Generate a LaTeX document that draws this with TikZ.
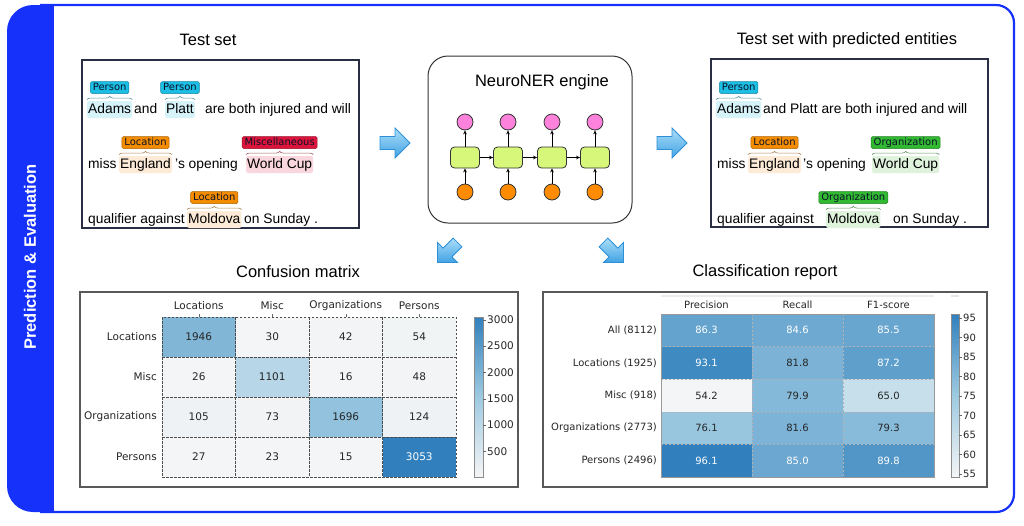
\documentclass[tikz,border=0pt]{standalone}
\usepackage{fontspec}
\setmainfont{Liberation Sans}
\newfontfamily\djv{DejaVu Sans}
\usetikzlibrary{decorations.pathreplacing,arrows.meta,calc}
\newcommand\myfs[1]{\fontsize{#1}{#1}\selectfont}
\definecolor{frameblue}{RGB}{22,50,250}
\definecolor{cmLight}{RGB}{244,245,246}
\definecolor{cmMid}{RGB}{158,202,225}
\definecolor{cmDark}{RGB}{49,128,189}
\definecolor{perTag}{RGB}{28,190,228}
\definecolor{perHL}{RGB}{215,243,250}
\definecolor{locTag}{RGB}{245,140,0}
\definecolor{locHL}{RGB}{253,235,215}
\definecolor{misTag}{RGB}{220,20,60}
\definecolor{misHL}{RGB}{250,215,222}
\definecolor{orgTag}{RGB}{50,185,50}
\definecolor{orgHL}{RGB}{222,242,220}
\definecolor{tagtext}{RGB}{10,18,40}
\definecolor{pinkC}{RGB}{252,130,220}
\definecolor{orangeC}{RGB}{255,140,0}
\definecolor{greenC}{RGB}{214,247,122}
\definecolor{arrowlight}{RGB}{170,222,249}
\definecolor{arrowdark}{RGB}{66,162,228}
\definecolor{arrowdraw}{RGB}{45,143,213}
\definecolor{mpltext}{RGB}{38,38,38}
\definecolor{boxline}{RGB}{42,46,66}
\begin{document}
\begin{tikzpicture}[x=1pt,y=-1pt,
  word/.style={anchor=base west, inner xsep=1pt, inner ysep=2pt, text height=10pt, text depth=3pt, font=\myfs{13.8}, rounded corners=2pt},
  enttag/.style={font=\djv\myfs{10}, text=tagtext, inner xsep=2.5pt, inner ysep=1.2pt, text height=7.6pt, text depth=2pt, rounded corners=1.5pt, draw=#1!70!black, fill=#1, line width=0.5pt},
  brc/.style={decorate, decoration={brace, amplitude=3.5pt}, draw=#1, line width=0.6pt},
  title/.style={font=\myfs{16.5}, text=black},
  tbox/.style={draw=boxline, line width=1.1pt},
  mbox/.style={draw=black!65, line width=1.2pt},
  pinkc/.style={circle, minimum size=16pt, inner sep=0pt, fill=pinkC, draw=black!80, line width=0.8pt},
  orangec/.style={circle, minimum size=16pt, inner sep=0pt, fill=orangeC, draw=black!80, line width=0.8pt},
  greenr/.style={rectangle, rounded corners=4pt, minimum width=29pt, minimum height=21pt, inner sep=0pt, fill=greenC, draw=black!80, line width=0.8pt},
  netarrow/.style={-{Stealth[length=4pt,width=3.6pt]}, line width=0.8pt, black},
  mpl/.style={font=\djv\myfs{10.5}, text=mpltext, inner sep=1pt},
  mpls/.style={font=\djv\myfs{10}, text=mpltext, inner sep=1pt},
  cmcell/.style={minimum width=73.5pt, minimum height=40pt, inner sep=0pt, font=\djv\myfs{10.5}},
  crcell/.style={minimum width=91pt, minimum height=32.6pt, inner sep=0pt, font=\djv\myfs{10}},
  cmgrid/.style={draw=black!70, dash pattern=on 2.5pt off 1.5pt, line width=0.6pt},
  crgrid/.style={draw=black!30, dash pattern=on 2pt off 2pt, line width=0.4pt},
  blockarrow/.pic={\draw[draw=arrowdraw, line width=0.8pt, top color=arrowlight, bottom color=arrowdark] (-15,-6.5) -- (0,-6.5) -- (0,-15) -- (15,0) -- (0,15) -- (0,6.5) -- (-15,6.5) -- cycle;}
]
\useasboundingbox (0,0) rectangle (1024,525);
% ---------- frame ----------
\fill[frameblue, rounded corners=26pt] (7,5) rectangle (90,512);
\fill[white] (54,6.2) rectangle (95,510.8);
\draw[frameblue, line width=2.2pt, rounded corners=18pt] (40,5) -- (1014,5) -- (1014,512) -- (40,512);
\node[rotate=90, text=white, font=\bfseries\myfs{16.5}] (side) at (30,257) {Prediction \& Evaluation};

% ---------- titles ----------
\node[title] (ttest) at (208,40) {Test set};
\node[title] (tpred) at (847,40) {Test set with predicted entities};
\node[title] (tconf) at (298,272) {Confusion matrix};
\node[title] (tclass) at (765,272) {Classification report};

% ---------- left text box ----------
\draw[tbox] (82,60) rectangle (359,228);
\node[word, fill=perHL] (la1) at (87,113) {Adams};
\node[word] (la2) at (133,113) {and};
\node[word, fill=perHL] (la3) at (165,113) {Platt};
\node[word] (la4) at (204,113) {are both injured and will};
\node[word] (lb1) at (87,168) {miss};
\node[word, fill=locHL] (lb2) at (119,168) {England};
\node[word] (lb3) at (174,168) {'s opening};
\node[word, fill=misHL] (lb4) at (246,168) {World Cup};
\node[word] (lc1) at (87,223) {qualifier against};
\node[word, fill=locHL] (lc2) at (187,223) {Moldova};
\node[word] (lc3) at (243,223) {on Sunday .};
\node[enttag=perTag] (lt1) at ([yshift=25.5pt]la1.base) {Person};
\node[enttag=perTag] (lt2) at ([yshift=25.5pt]la3.base) {Person};
\node[enttag=locTag] (lt3) at ([yshift=25.5pt]lb2.base) {Location};
\node[enttag=misTag] (lt4) at ([yshift=25.5pt]lb4.base) {Miscellaneous};
\node[enttag=locTag] (lt5) at ([yshift=25.5pt]lc2.base) {Location};
\draw[brc=perTag!35!gray] ([yshift=1pt]la1.north west) -- ([yshift=1pt]la1.north east);
\draw[brc=perTag!35!gray] ([yshift=1pt]la3.north west) -- ([yshift=1pt]la3.north east);
\draw[brc=locTag!35!gray] ([yshift=1pt]lb2.north west) -- ([yshift=1pt]lb2.north east);
\draw[brc=misTag!35!gray] ([yshift=1pt]lb4.north west) -- ([yshift=1pt]lb4.north east);
\draw[brc=locTag!35!gray] ([yshift=1pt]lc2.north west) -- ([yshift=1pt]lc2.north east);

% ---------- right text box ----------
\draw[tbox] (711,59) rectangle (988,227);
\node[word, fill=perHL] (ra1) at (716,113) {Adams};
\node[word] (ra2) at (762,113) {and Platt are both injured and will};
\node[word] (rb1) at (716,168) {miss};
\node[word, fill=locHL] (rb2) at (748,168) {England};
\node[word] (rb3) at (802,168) {'s opening};
\node[word, fill=orgHL] (rb4) at (872,168) {World Cup};
\node[word] (rc1) at (716,223) {qualifier against};
\node[word, fill=orgHL] (rc2) at (826,223) {Moldova};
\node[word] (rc3) at (892,223) {on Sunday .};
\node[enttag=perTag] (rt1) at ([yshift=25.5pt]ra1.base) {Person};
\node[enttag=locTag] (rt2) at ([yshift=25.5pt]rb2.base) {Location};
\node[enttag=orgTag] (rt3) at ([yshift=25.5pt]rb4.base) {Organization};
\node[enttag=orgTag] (rt4) at ([yshift=25.5pt]rc2.base) {Organization};
\draw[brc=perTag!35!gray] ([yshift=1pt]ra1.north west) -- ([yshift=1pt]ra1.north east);
\draw[brc=locTag!35!gray] ([yshift=1pt]rb2.north west) -- ([yshift=1pt]rb2.north east);
\draw[brc=orgTag!35!gray] ([yshift=1pt]rb4.north west) -- ([yshift=1pt]rb4.north east);
\draw[brc=orgTag!35!gray] ([yshift=1pt]rc2.north west) -- ([yshift=1pt]rc2.north east);

% ---------- engine ----------
\draw[draw=black!80, line width=1pt, rounded corners=20pt] (428,56) rectangle (632,223);
\node[title] (teng) at (542,82) {NeuroNER engine};
\foreach \i/\x in {1/465,2/508,3/552,4/595}{
  \node[pinkc] (p\i) at (\x,122) {};
  \node[greenr] (g\i) at (\x,157.5) {};
  \node[orangec] (o\i) at (\x,192) {};
  \draw[netarrow] (o\i) -- (g\i);
  \draw[netarrow] (g\i) -- (p\i);
}
\draw[netarrow] (g1) -- (g2);
\draw[netarrow] (g2) -- (g3);
\draw[netarrow] (g3) -- (g4);

% ---------- block arrows ----------
\pic at (395,143) {blockarrow};
\pic at (672,143) {blockarrow};
\pic[rotate=225, scale=0.95] at (447.5,252.5) {blockarrow};
\pic[rotate=-45, scale=0.95] at (613.5,252.5) {blockarrow};

% ---------- confusion matrix ----------
\draw[mbox] (80,292) rectangle (518,487);
\foreach \c/\r/\v/\col/\tc in {
  0/0/1946/cmDark!27!cmMid/mpltext, 1/0/30/cmMid!1!cmLight/mpltext, 2/0/42/cmMid!2!cmLight/mpltext, 3/0/54/cmMid!3!cmLight/mpltext,
  0/1/26/cmMid!1!cmLight/mpltext, 1/1/1101/cmMid!71!cmLight/mpltext, 2/1/16/cmLight/mpltext, 3/1/48/cmMid!2!cmLight/mpltext,
  0/2/105/cmMid!6!cmLight/mpltext, 1/2/73/cmMid!4!cmLight/mpltext, 2/2/1696/cmDark!11!cmMid/mpltext, 3/2/124/cmMid!7!cmLight/mpltext,
  0/3/27/cmMid!1!cmLight/mpltext, 1/3/23/cmMid!1!cmLight/mpltext, 2/3/15/cmLight/mpltext, 3/3/3053/cmDark/white}{
  \node[cmcell, fill=\col, text=\tc] (cm\r\c) at (198.75+73.5*\c, 337+40*\r) {\v};
}
\foreach \c in {1,2,3}{\draw[cmgrid] (162+73.5*\c,317) -- (162+73.5*\c,477);}
\foreach \r in {1,2,3}{\draw[cmgrid] (162,317+40*\r) -- (456,317+40*\r);}
\draw[cmgrid] (162,317) rectangle (456,477);
\foreach \c/\lab in {0/Locations,1/Misc,2/Organizations,3/Persons}{
  \node[mpl] (cmc\c) at (198.75+73.5*\c,306) {\lab};
  \draw[black!60, line width=0.5pt] (198.75+73.5*\c,314) -- (198.75+73.5*\c,317);
}
\foreach \r/\lab in {0/Locations,1/Misc,2/Organizations,3/Persons}{
  \node[mpl, anchor=east] (cmr\r) at (158,337+40*\r) {\lab};
}
\shade[top color=cmDark, bottom color=cmLight, middle color=cmMid] (474,317) rectangle (483,477);
\draw[black!45, line width=0.5pt] (474,317) rectangle (483,477);
\foreach \v in {500,1000,1500,2000,2500,3000}{
  \pgfmathsetmacro\yy{477-(\v-15)/3038*160}
  \draw[black!60, line width=0.5pt] (483,\yy) -- (486,\yy);
  \node[mpl, anchor=west] (cb\v) at (486,\yy) {\v};
}

% ---------- classification report ----------
\draw[mbox] (543,292) rectangle (987,487);
\draw[black!8, line width=2.5pt] (661,296) -- (934,296);
\draw[black!10, line width=1.5pt] (951,296) -- (959,296);
\foreach \c/\r/\v/\col/\tc in {
  0/0/86.3/cmDark!53!cmMid/white, 1/0/84.6/cmDark!45!cmMid/white, 2/0/85.5/cmDark!49!cmMid/white,
  0/1/93.1/cmDark!86!cmMid/white, 1/1/81.8/cmDark!32!cmMid/mpltext, 2/1/87.2/cmDark!58!cmMid/white,
  0/2/54.2/cmLight/mpltext, 1/2/79.9/cmDark!23!cmMid/mpltext, 2/2/65.0/cmMid!52!cmLight/mpltext,
  0/3/76.1/cmDark!5!cmMid/mpltext, 1/3/81.6/cmDark!31!cmMid/mpltext, 2/3/79.3/cmDark!20!cmMid/mpltext,
  0/4/96.1/cmDark/white, 1/4/85.0/cmDark!47!cmMid/white, 2/4/89.8/cmDark!70!cmMid/white}{
  \node[crcell, fill=\col, text=\tc] (cr\r\c) at (706.5+91*\c, 330.3+32.6*\r) {\v};
}
\foreach \c in {1,2}{\draw[crgrid] (661+91*\c,314) -- (661+91*\c,477);}
\foreach \r in {1,2,3,4}{\draw[crgrid] (661,314+32.6*\r) -- (934,314+32.6*\r);}
\draw[black!40, line width=0.5pt] (661,314) rectangle (934,477);
\foreach \c/\lab in {0/Precision,1/Recall,2/F1-score}{
  \node[mpls] (crc\c) at (706.5+91*\c,305) {\lab};
}
\foreach \r/\lab in {0/All (8112),1/Locations (1925),2/Misc (918),3/Organizations (2773),4/Persons (2496)}{
  \node[mpls, anchor=east] (crr\r) at (658,330.3+32.6*\r) {\lab};
}
\shade[top color=cmDark, bottom color=cmLight, middle color=cmMid] (951,314) rectangle (959,477);
\draw[black!45, line width=0.5pt] (951,314) rectangle (959,477);
\foreach \v in {55,60,65,70,75,80,85,90,95}{
  \pgfmathsetmacro\yy{477-(\v-54.2)*163/41.9}
  \draw[black!60, line width=0.5pt] (959,\yy) -- (962,\yy);
  \node[mpls, anchor=west] (cc\v) at (962,\yy) {\v};
}
\end{tikzpicture}
\end{document}
